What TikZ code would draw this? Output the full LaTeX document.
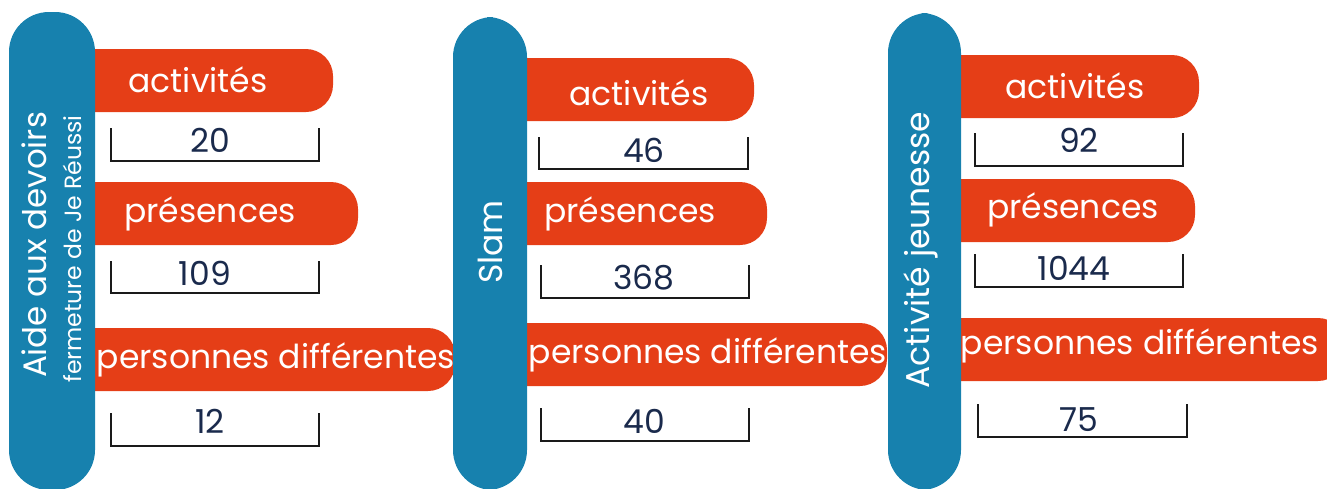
\documentclass[tikz,border=0pt]{standalone}
\usepackage{fontspec}
\setmainfont{Poppins}
\definecolor{obar}{HTML}{E53E17}
\definecolor{bpill}{HTML}{1781AE}
\definecolor{navy}{HTML}{1A2A4C}
\definecolor{brk}{HTML}{1A1A1A}
\tikzset{
  barfill/.style={fill=obar, rounded corners=27pt},
  pillfill/.style={fill=bpill, rounded corners=40pt},
  bartext/.style={text=white, font=\fontsize{33}{37}\selectfont, inner sep=0pt, anchor=center},
  numtext/.style={text=navy, font=\fontsize{33}{37}\selectfont, inner sep=0pt, anchor=center},
  pilltext/.style={text=white, rotate=90, inner sep=0pt, anchor=center, align=center},
  brkline/.style={draw=brk, line width=1.6pt},
}
\begin{document}
\begin{tikzpicture}[x=1pt,y=-1pt]
\useasboundingbox (0,0) rectangle (1327,488);
% orange bars (left ends hidden under the pills)
\fill[barfill] (52,49) rectangle (333,112);
\fill[barfill] (52,182) rectangle (358,245);
\fill[barfill] (52,328) rectangle (455,391);
\fill[barfill] (490,58) rectangle (754,121);
\fill[barfill] (490,182) rectangle (767,245);
\fill[barfill] (490,323) rectangle (887,386);
\fill[barfill] (925,55) rectangle (1199,118);
\fill[barfill] (925,179) rectangle (1195,242);
\fill[barfill] (925,318) rectangle (1345,381);
% blue pills
\fill[pillfill] (9,12) rectangle (95,490);
\fill[pillfill] (453,17) rectangle (527,490);
\fill[pillfill] (888,13) rectangle (961,490);
% brackets
\draw[brkline] (111,128) -- (111,161) -- (319,161) -- (319,128);
\draw[brkline] (111,261) -- (111,293) -- (319,293) -- (319,261);
\draw[brkline] (111,413) -- (111,446) -- (319,446) -- (319,413);
\draw[brkline] (539,137) -- (539,169) -- (748,169) -- (748,137);
\draw[brkline] (541,265) -- (541,298) -- (749,298) -- (749,265);
\draw[brkline] (541,408) -- (541,441) -- (749,441) -- (749,408);
\draw[brkline] (975,133) -- (975,166) -- (1183,166) -- (1183,133);
\draw[brkline] (975,254) -- (975,287) -- (1183,287) -- (1183,254);
\draw[brkline] (978,404) -- (978,437) -- (1187,437) -- (1187,404);
% pill titles
\node[pilltext, font=\fontsize{32.5}{36}\selectfont] (t1a) at (34,245) {Aide aux devoirs};
\node[pilltext, font=\fontsize{23.5}{26}\selectfont] (t1b) at (72,249) {fermeture de Je Réussi};
\node[pilltext, font=\fontsize{33}{36}\selectfont] (t2) at (490,242) {Slam};
\node[pilltext, font=\fontsize{33}{36}\selectfont] (t3) at (921,250) {Activité jeunesse};
% bar labels
\node[bartext] (a1) at (198,80) {activités};
\node[bartext] (p1) at (210,214) {présences};
\node[bartext] (d1) at (276,360) {personnes différentes};
\node[bartext] (a2) at (639,93) {activités};
\node[bartext] (p2) at (630,214) {présences};
\node[bartext] (d2) at (708,355) {personnes différentes};
\node[bartext] (a3) at (1075,86) {activités};
\node[bartext] (p3) at (1073,210) {présences};
\node[bartext] (d3) at (1140,346) {personnes différentes};
% numbers
\node[numtext] (n1a) at (210,140) {20};
\node[numtext] (n1b) at (205,273) {109};
\node[numtext] (n1c) at (210,421) {12};
\node[numtext] (n2a) at (644,150) {46};
\node[numtext] (n2b) at (644,278) {368};
\node[numtext] (n2c) at (644,421) {40};
\node[numtext] (n3a) at (1079,140) {92};
\node[numtext] (n3b) at (1074,268) {1044};
\node[numtext] (n3c) at (1079,420) {75};
\end{tikzpicture}
\end{document}
